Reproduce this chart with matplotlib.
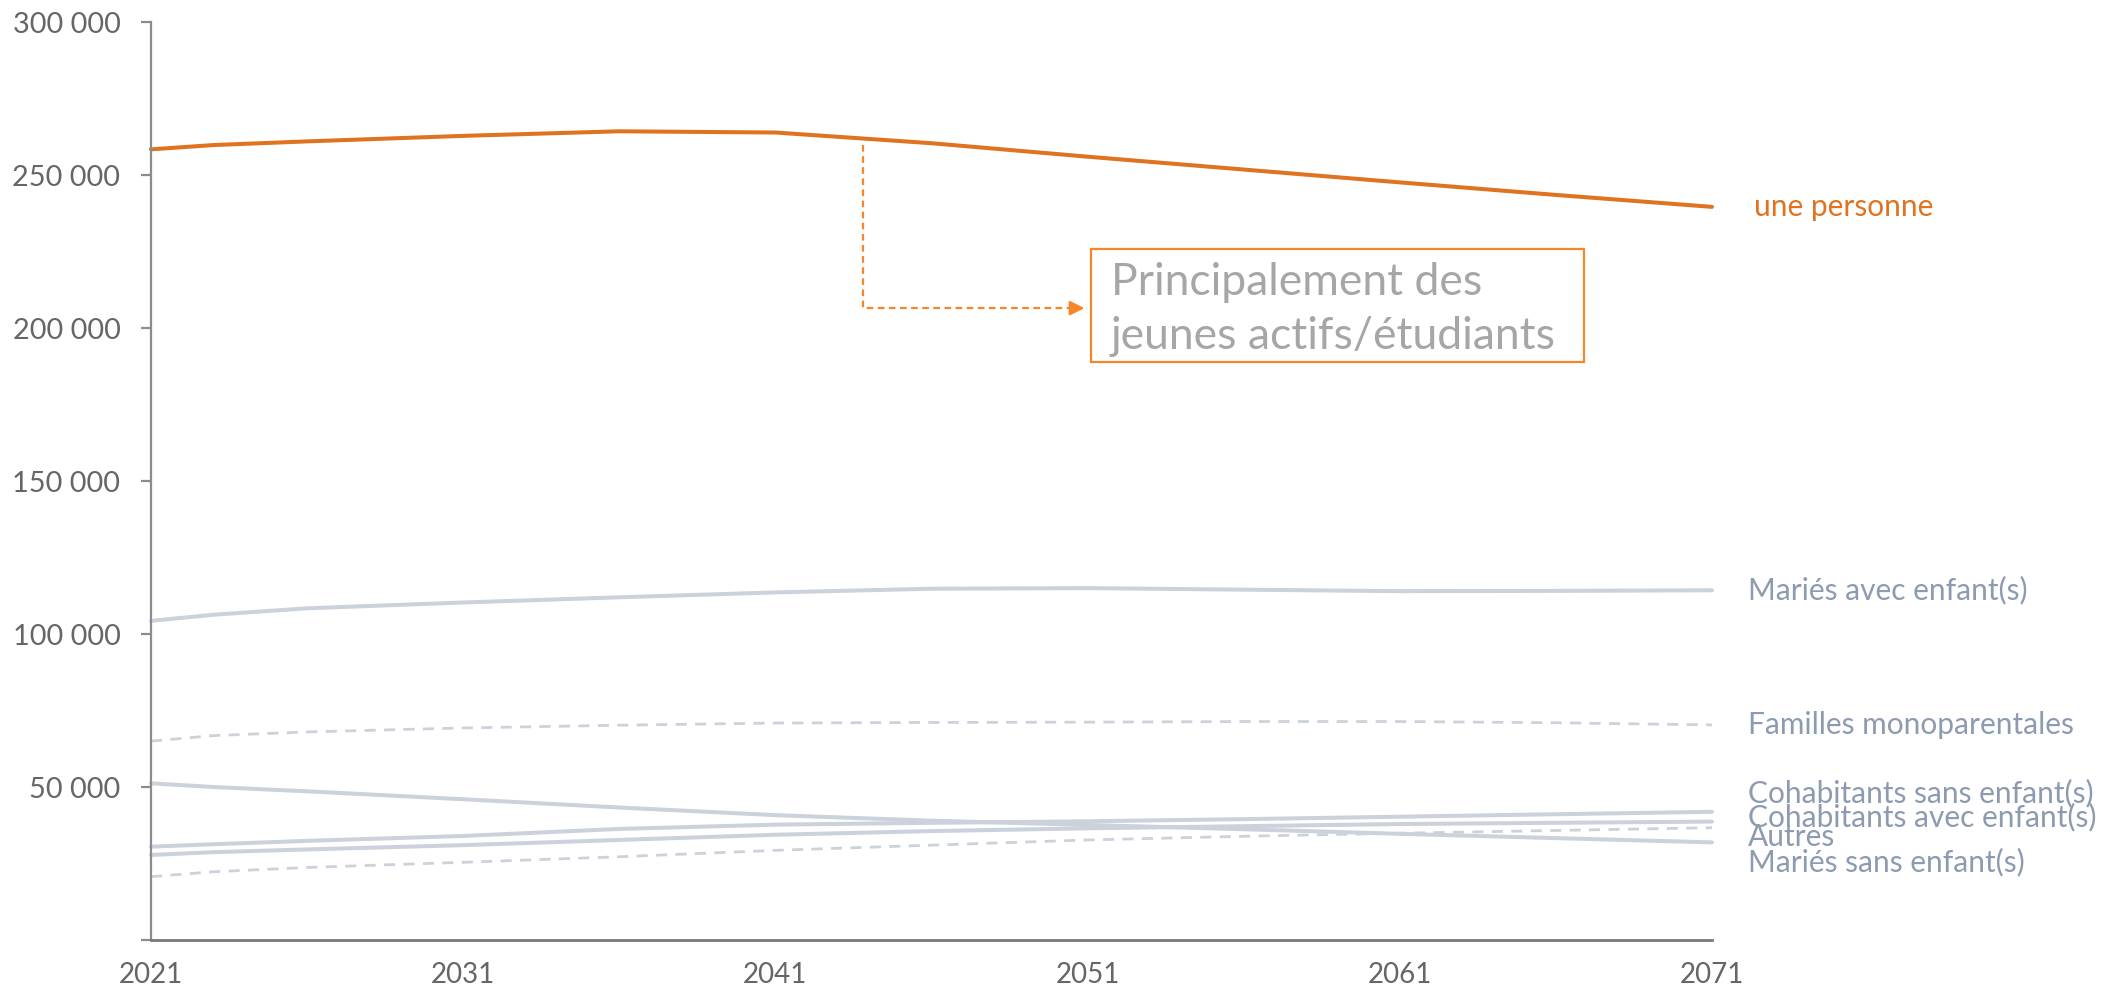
import matplotlib
matplotlib.use("Agg")
import matplotlib.pyplot as plt
from matplotlib.patches import Rectangle
from matplotlib.ticker import FuncFormatter

plt.rcParams["font.family"] = ["Lato", "DejaVu Sans"]

# Projected number of households by type
years = [2021, 2023, 2026, 2031, 2036, 2041, 2046, 2051, 2056, 2061, 2066, 2071]

une_personne = [258400, 259800, 261000, 262800, 264300, 263900, 260400, 256000, 251800, 247600, 243500, 239600]
maries_avec = [104300, 106300, 108400, 110300, 112000, 113600, 114800, 115000, 114500, 114000, 114100, 114300]
familles_mono = [65000, 66800, 68000, 69300, 70200, 70900, 71100, 71200, 71400, 71400, 71000, 70300]
cohab_sans = [30500, 31300, 32400, 34000, 36300, 37700, 38300, 38800, 39500, 40300, 41100, 41900]
cohab_avec = [27800, 28700, 29600, 31000, 32700, 34400, 35600, 36500, 37200, 37900, 38300, 38700]
autres = [20700, 22300, 23700, 25400, 27200, 29300, 31000, 32700, 33900, 34900, 35800, 36700]
maries_sans = [51200, 50000, 48600, 46000, 43300, 40800, 39000, 37600, 36200, 34700, 33300, 31900]

series_names = [
    "Mariés avec enfant(s)",
    "Familles monoparentales",
    "Cohabitants sans enfant(s)",
    "Cohabitants avec enfant(s)",
    "Autres",
    "Mariés sans enfant(s)",
]
series_values = [maries_avec, familles_mono, cohab_sans, cohab_avec, autres, maries_sans]
series_dashed = [False, True, False, False, True, False]

x_ticks = [2021, 2031, 2041, 2051, 2061, 2071]
y_ticks = [0, 50000, 100000, 150000, 200000, 250000, 300000]

ORANGE = "#E0731F"
ORANGE_LIGHT = "#F5862A"
LINE_GREY = "#CBD2DB"
LABEL_BLUE = "#8D9BB0"
AXIS_GREY = "#8C8C8C"
TEXT_GREY = "#666666"

fig = plt.figure(figsize=(21.16, 9.88), dpi=100)
ax = fig.add_axes([0.07136, 0.04858, 0.7377, 0.9291])

# background series first so the orange line sits on top
for name, vals, dashed in zip(series_names, series_values, series_dashed):
    if dashed:
        ax.plot(years, vals, color=LINE_GREY, lw=2.0, ls=(0, (4, 3)), clip_on=False)
    else:
        ax.plot(years, vals, color=LINE_GREY, lw=2.9, solid_capstyle="round", clip_on=False)

ax.plot(years, une_personne, color=ORANGE, lw=2.9, solid_capstyle="round", clip_on=False)

# end-of-line labels, nudged apart where the lines bunch up
label_x = years[-1] + 1.15
label_shift = {
    "Mariés avec enfant(s)": 0,
    "Familles monoparentales": 0,
    "Cohabitants sans enfant(s)": 6000,
    "Cohabitants avec enfant(s)": 1400,
    "Autres": -3100,
    "Mariés sans enfant(s)": -6500,
}
for name, vals in zip(series_names, series_values):
    ax.text(label_x, vals[-1] + label_shift[name], name, color=LABEL_BLUE,
            fontsize=21.5, va="center", ha="left")
ax.text(label_x + 0.2, une_personne[-1], "une personne", color=ORANGE,
        fontsize=21.5, va="center", ha="left")

# annotation: dashed elbow arrow from the curve to the text box
arrow_x, arrow_top, arrow_y, arrow_end = 2043.8, 259800, 206500, 2050.9
ax.plot([arrow_x, arrow_x, arrow_end - 0.3], [arrow_top, arrow_y, arrow_y],
        color=ORANGE_LIGHT, lw=1.6, ls=(0, (3, 2)))
ax.annotate("", xy=(arrow_end, arrow_y), xytext=(arrow_end - 0.4, arrow_y),
            arrowprops=dict(arrowstyle="-|>", color=ORANGE_LIGHT, lw=1.6,
                            mutation_scale=22, shrinkA=0, shrinkB=0))
ax.add_patch(Rectangle((2051.1, 188900), 15.8, 36900, fill=False,
                       edgecolor=ORANGE_LIGHT, lw=1.6))
ax.text(2051.75, 206000, "Principalement des\njeunes actifs/étudiants",
        color="#A6A6A6", fontsize=32, va="center", ha="left", linespacing=1.4)

ax.set_xlim(2021, 2071)
ax.set_ylim(0, 300000)
ax.set_xticks(x_ticks)
ax.set_yticks(y_ticks)
ax.yaxis.set_major_formatter(
    FuncFormatter(lambda v, _: "" if v == 0 else f"{v:,.0f}".replace(",", " ")))

for side in ("top", "right"):
    ax.spines[side].set_visible(False)
ax.spines["left"].set_color(AXIS_GREY)
ax.spines["left"].set_linewidth(1.6)
ax.spines["bottom"].set_color("#787878")
ax.spines["bottom"].set_linewidth(2.0)

ax.tick_params(axis="y", length=7, width=1.6, color=AXIS_GREY, pad=15,
               labelsize=20.8, labelcolor=TEXT_GREY)
ax.tick_params(axis="x", length=0, pad=16, labelsize=20, labelcolor=TEXT_GREY)
ax.set_xticks([2021], minor=True)
ax.tick_params(axis="x", which="minor", length=7, width=1.6, color=AXIS_GREY)

fig.savefig("out.png", dpi=100)
